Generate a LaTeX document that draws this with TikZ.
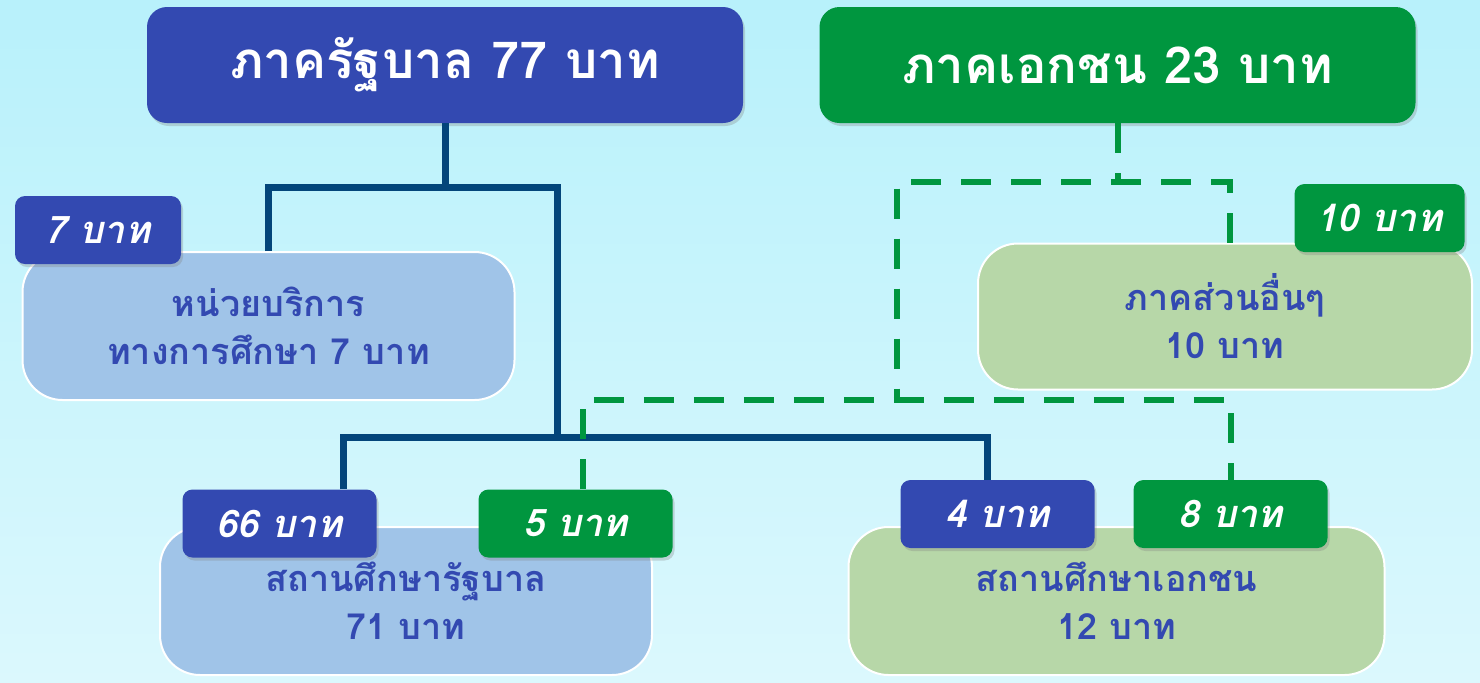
\documentclass[tikz,border=0pt]{standalone}
\usepackage{fontspec}
\newfontfamily\thaifont[Script=Thai]{Loma}
\usepackage{tikz}
\usetikzlibrary{positioning,calc,shadows}

\definecolor{GovBlue}{HTML}{3349B1}
\definecolor{PrivGreen}{HTML}{00963F}
\definecolor{LightBlue}{HTML}{A0C4E8}
\definecolor{LightGreen}{HTML}{B7D7A8}
\definecolor{Navy}{HTML}{03457A}
\definecolor{SkyTop}{HTML}{B8F1FB}
\definecolor{SkyBot}{HTML}{DBF8FD}

\begin{document}
\begin{tikzpicture}[x=0.5pt,y=-0.5pt]
\tikzset{
	head box/.style = {rounded corners=10pt, text=white, font=\thaifont\bfseries\fontsize{25.5}{30}\selectfont,
		drop shadow={opacity=0.3,shadow xshift=1pt,shadow yshift=-1.5pt}},
	sub box/.style = {rounded corners=20pt, draw=white, line width=1pt, text=GovBlue, align=center,
		font=\thaifont\bfseries\fontsize{18}{24}\selectfont},
	tag box/.style = {rounded corners=5pt, text=white, font=\thaifont\bfseries\itshape\fontsize{19}{24}\selectfont,
		drop shadow={opacity=0.3,shadow xshift=1pt,shadow yshift=-1.5pt}},
	gov line/.style = {draw=Navy, line width=3.5pt},
	priv line/.style = {draw=PrivGreen, line width=3pt, dash pattern=on 15pt off 10pt},
}
% background
\shade[top color=SkyTop, bottom color=SkyBot] (0,0) rectangle (1480,682);
\useasboundingbox (0,0) rectangle (1480,682);

% heads
\node(gov)[head box, fill=GovBlue, minimum width=298pt, minimum height=58pt] at (445,65) {ภาครัฐบาล 77 บาท};
\node(priv)[head box, fill=PrivGreen, minimum width=298pt, minimum height=58pt] at (1117.5,65) {ภาคเอกชน 23 บาท};

% boxes
\node(svc)[sub box, fill=LightBlue, minimum width=246pt, minimum height=74pt] at (268.5,326) {หน่วยบริการ\\ทางการศึกษา 7 บาท};
\node(oth)[sub box, fill=LightGreen, minimum width=247pt, minimum height=73pt] at (1225,316.5) {ภาคส่วนอื่นๆ\\10 บาท};
\node(pub)[sub box, fill=LightBlue, minimum width=246pt, minimum height=74pt] at (406,601) {สถานศึกษารัฐบาล\\71 บาท};
\node(pvt)[sub box, fill=LightGreen, minimum width=268pt, minimum height=74pt] at (1116.5,601) {สถานศึกษาเอกชน\\12 บาท};

% tags
\node(t7)[tag box, fill=GovBlue, minimum width=83pt, minimum height=34pt] at (98,230) {7 บาท};
\node(t10)[tag box, fill=PrivGreen, minimum width=85pt, minimum height=34pt] at (1379.5,218) {10 บาท};
\node(t66)[tag box, fill=GovBlue, minimum width=97pt, minimum height=34pt] at (279.5,523.5) {66 บาท};
\node(t5)[tag box, fill=PrivGreen, minimum width=97pt, minimum height=34pt] at (575.5,523.5) {5 บาท};
\node(t4)[tag box, fill=GovBlue, minimum width=97pt, minimum height=34pt] at (997.5,514) {4 บาท};
\node(t8)[tag box, fill=PrivGreen, minimum width=97pt, minimum height=34pt] at (1230.5,514) {8 บาท};

% government money
\coordinate(g1) at (445,187);
\coordinate(g2) at (557,437);
\draw[gov line] (gov.south) -- (g1);
\draw[gov line] (svc.north) |- (g1) -| (g2);
\draw[gov line] ($(t66.north)+(63.5,0)$) |- (g2) -| ($(t4.north)+(-10.5,0)$);

% private money
\coordinate(p1) at (1117.5,182);
\coordinate(p2) at (897,400);
\draw[priv line] (priv.south) -- (p1);
\draw[priv line] ($(oth.north)+(5,0)$) |- (p1) -| (p2);
\draw[priv line] ($(t5.north)+(7.5,0)$) |- (p2) -| (t8.north);

\end{tikzpicture}
\end{document}
